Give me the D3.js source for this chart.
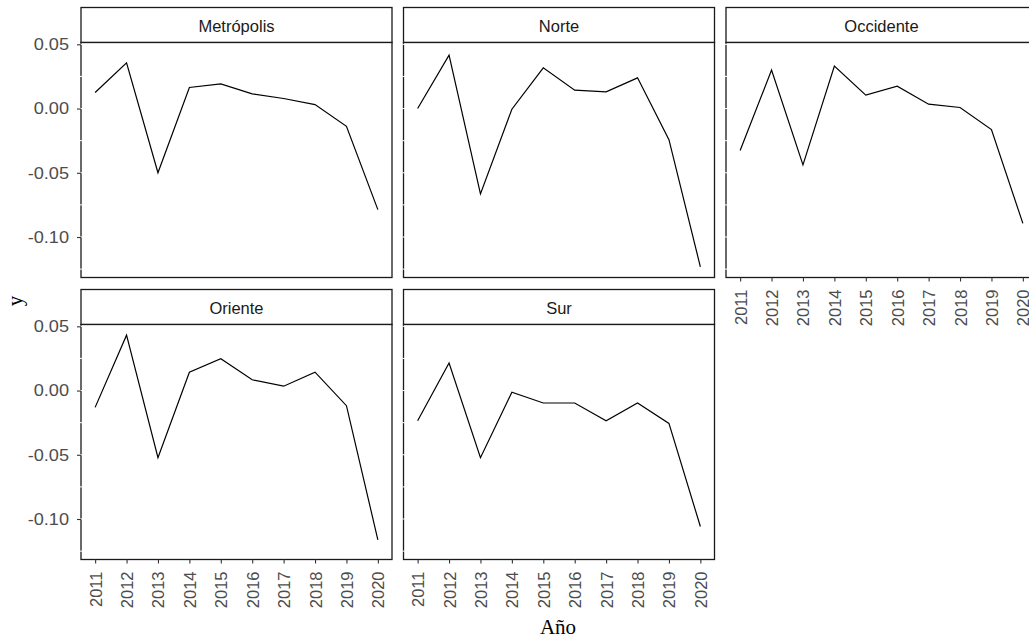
<!DOCTYPE html>
<html>
<head>
<meta charset="utf-8">
<script src="https://cdn.jsdelivr.net/npm/d3@7"></script>
<style>
  html, body { margin: 0; padding: 0; background: #fff; }
  svg { display: block; }
</style>
</head>
<body>
<svg id="chart" width="1029" height="640"></svg>
<script>
// Years on the x axis
const years = [2011, 2012, 2013, 2014, 2015, 2016, 2017, 2018, 2019, 2020];

// Facet names, in panel order
const regions = ["Metrópolis", "Norte", "Occidente", "Oriente", "Sur"];

// Yearly values per region
const metropolis = [0.0125, 0.0356, -0.0500, 0.0164, 0.0192, 0.0114, 0.0078, 0.0031, -0.0138, -0.0787];
const norte      = [0.0000, 0.0416, -0.0664, -0.0005, 0.0317, 0.0143, 0.0130, 0.0239, -0.0242, -0.1232];
const occidente  = [-0.0326, 0.0299, -0.0438, 0.0330, 0.0104, 0.0174, 0.0034, 0.0008, -0.0164, -0.0894];
const oriente    = [-0.0131, 0.0431, -0.0523, 0.0143, 0.0248, 0.0084, 0.0034, 0.0143, -0.0118, -0.1162];
const sur        = [-0.0235, 0.0214, -0.0523, -0.0013, -0.0097, -0.0097, -0.0235, -0.0097, -0.0256, -0.1058];

// Y-axis tick values and labels
const yTicks = [0.05, 0.00, -0.05, -0.10];
const yTickLabels = ["0.05", "0.00", "-0.05", "-0.10"];
const yMinor = [0.025, -0.025, -0.075, -0.125];

const seriesByRegion = [metropolis, norte, occidente, oriente, sur];

const svg = d3.select("#chart");

const sansFont = "'Liberation Sans', Arial, sans-serif";
const serifFont = "'Liberation Serif', 'Times New Roman', serif";

// Facet grid geometry (3 columns, 2 rows)
const colLeft = [81, 403.5, 726];
const panelW = 311;
const stripH = 35;
const rowStripTop = [7.5, 289.5];
const panelH = 235;

// Shared scales: 5% expansion on both axes
const allVals = seriesByRegion.flat();
const [vMin, vMax] = d3.extent(allVals);
const vPad = (vMax - vMin) * 0.05;
const xPad = (d3.max(years) - d3.min(years)) * 0.05;

const xScale = d3.scaleLinear()
  .domain([d3.min(years) - xPad, d3.max(years) + xPad])
  .range([0, panelW]);
const yScale = d3.scaleLinear()
  .domain([vMin - vPad, vMax + vPad])
  .range([panelH, 0]);

const line = d3.line()
  .x(d => xScale(d[0]))
  .y(d => yScale(d[1]));

regions.forEach((name, i) => {
  const col = i % 3, row = Math.floor(i / 3);
  const left = colLeft[col];
  const stripTop = rowStripTop[row];
  const panelTop = stripTop + stripH;

  // strip
  svg.append("rect")
    .attr("x", left).attr("y", stripTop)
    .attr("width", panelW).attr("height", stripH)
    .attr("fill", "#fff").attr("stroke", "#1a1a1a").attr("stroke-width", 1.3);
  svg.append("text")
    .attr("x", left + panelW / 2).attr("y", stripTop + stripH / 2 + 1)
    .attr("text-anchor", "middle").attr("dominant-baseline", "central")
    .attr("font-family", sansFont).attr("font-size", 16.5)
    .attr("fill", "#1a1a1a")
    .text(name);

  const g = svg.append("g").attr("transform", `translate(${left},${panelTop})`);

  // panel background
  g.append("rect")
    .attr("width", panelW).attr("height", panelH)
    .attr("fill", "#fff");

  // data line
  const pts = years.map((y, k) => [y, seriesByRegion[i][k]]);
  g.append("path")
    .datum(pts)
    .attr("d", line)
    .attr("fill", "none").attr("stroke", "#000").attr("stroke-width", 1.2);

  // panel border
  g.append("rect")
    .attr("width", panelW).attr("height", panelH)
    .attr("fill", "none").attr("stroke", "#1a1a1a").attr("stroke-width", 1.3);

  // white grid marks crossing the left border
  g.selectAll("line.gridmark")
    .data(yTicks.concat(yMinor))
    .join("line")
    .attr("class", "gridmark")
    .attr("x1", -1).attr("x2", 1.5)
    .attr("y1", d => yScale(d)).attr("y2", d => yScale(d))
    .attr("stroke", "#fff").attr("stroke-width", 1);

  // y axis on first column only
  if (col === 0) {
    const yAxis = d3.axisLeft(yScale)
      .tickValues(yTicks)
      .tickFormat((d, k) => yTickLabels[k])
      .tickSize(4).tickPadding(8);
    const ya = g.append("g").call(yAxis);
    ya.select(".domain").remove();
    ya.selectAll(".tick line").attr("stroke", "#333").attr("stroke-width", 1.1);
    ya.selectAll(".tick text")
      .attr("font-family", sansFont).attr("font-size", 16.5)
      .attr("fill", "#4d4d4d")
      .attr("x", 0)
      .attr("transform", "translate(-12,0) scale(1.1,1)");
  }

  // x axis where no panel sits below
  const hasBelow = row === 0 && (i + 3) < regions.length;
  if (!hasBelow) {
    const xAxis = d3.axisBottom(xScale)
      .tickValues(years)
      .tickFormat(d3.format("d"))
      .tickSize(4).tickPadding(6);
    const xa = g.append("g").attr("transform", `translate(0,${panelH})`).call(xAxis);
    xa.select(".domain").remove();
    xa.selectAll(".tick line").attr("stroke", "#333").attr("stroke-width", 1.1);
    xa.selectAll(".tick text")
      .attr("font-family", sansFont).attr("font-size", 16.5)
      .attr("fill", "#4d4d4d")
      .attr("transform", "rotate(-90)")
      .attr("text-anchor", "end")
      .attr("dy", null)
      .attr("dominant-baseline", "central")
      .attr("x", -12).attr("y", 0);
  }
});

// axis titles
svg.append("text")
  .attr("transform", "translate(15,301) rotate(-90)")
  .attr("text-anchor", "middle").attr("dominant-baseline", "central")
  .attr("font-family", serifFont).attr("font-size", 21)
  .attr("fill", "#000")
  .text("y");

svg.append("text")
  .attr("x", 558).attr("y", 634)
  .attr("text-anchor", "middle")
  .attr("font-family", serifFont).attr("font-size", 21)
  .attr("fill", "#000")
  .text("Año");
</script>
</body>
</html>
